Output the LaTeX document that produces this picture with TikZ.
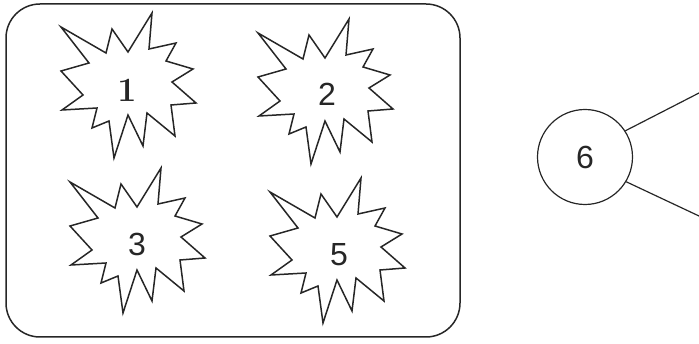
\documentclass[tikz,border=0pt]{standalone}
\usepackage{fontspec}
\newfontfamily\digitfont{Liberation Sans}
\begin{document}
\begin{tikzpicture}[x=1pt,y=-1pt,
  burstline/.style={draw=black!85,line width=1.5pt,line join=miter},
  numlabel/.style={font=\digitfont\fontsize{32}{32}\selectfont,text=black!85,inner sep=0pt},
  burst/.pic={
    \path[burstline] (-67,-63) -- (-22,-37) -- (-16,-61) -- (0,-38) -- (24,-77) -- (21,-41)
      -- (48,-47) -- (38,-29) -- (65,-21) -- (44,-8) -- (68,13) -- (43,15)
      -- (47,46) -- (19,23) -- (15,56) -- (0,25) -- (-14,68) -- (-19,31)
      -- (-36,38) -- (-31,18) -- (-66,20) -- (-45,5) -- (-67,-19) -- (-39,-27) -- cycle;
  }]
\useasboundingbox (0,0) rectangle (699,344);
% frame
\node[draw=black!85,line width=1.5pt,rounded corners=34pt,minimum width=454pt,minimum height=333pt,inner sep=0pt] (frame) at (233,170.5) {};
% bursts
\pic (b1) at (128,90) {burst};
\pic (b2) at (325,96) {burst};
\pic (b3) at (137,245) {burst};
\pic (b5) at (337,255) {burst};
\node[numlabel,font=\rmfamily\bfseries\fontsize{34}{34}\selectfont] (n1) at (127,90) {1};
\node[numlabel] (n2) at (327,94) {2};
\node[numlabel] (n3) at (137,244) {3};
\node[numlabel] (n5) at (339,255) {5};
% circle six
\node[draw=black!85,circle,line width=1.2pt,minimum size=95pt,inner sep=0pt,numlabel] (six) at (585,157) {6};
\coordinate (e1) at (699,93);
\coordinate (e2) at (699,216);
\draw[black!85,line width=1.2pt] (six.33) -- (e1);
\draw[black!85,line width=1.2pt] (six.-31) -- (e2);
\end{tikzpicture}
\end{document}
